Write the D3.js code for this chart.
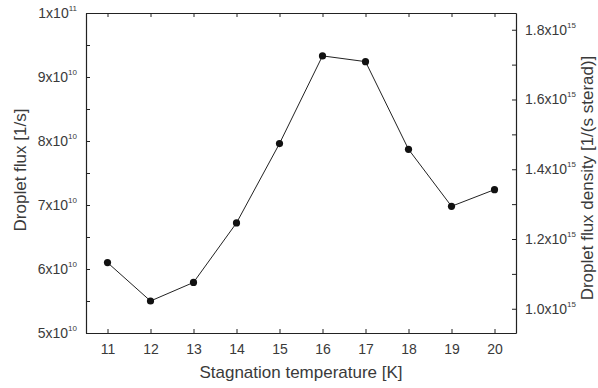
<!DOCTYPE html>
<html>
<head>
<meta charset="utf-8">
<script src="https://cdn.jsdelivr.net/npm/d3@7"></script>
<style>
  body { margin: 0; background: #fff; }
  text { font-family: "Liberation Sans", Arial, sans-serif; fill: #3a3a3a; }
  .domain, .tick line { stroke: #222; }
</style>
</head>
<body>
<div id="chart"></div>
<script>
// data
let temps = [11, 12, 13, 14, 15, 16, 17, 18, 19, 20];
let flux = [6.10e10, 5.50e10, 5.79e10, 6.72e10, 7.96e10, 9.33e10, 9.24e10, 7.87e10, 6.98e10, 7.24e10];

let leftTicks = [5, 6, 7, 8, 9, 10];           // x10^10, last one is 1x10^11
let leftMinor = [5.5, 6.5, 7.5, 8.5, 9.5];
let rightTicks = [1.0, 1.2, 1.4, 1.6, 1.8];    // x10^15
let rightMinor = [1.1, 1.3, 1.5, 1.7];

let svgWidth = 598;
let svgHeight = 388;
let margin = { top: 13, right: 82, bottom: 55, left: 86 };
let width = svgWidth - margin.left - margin.right;
let height = svgHeight - margin.top - margin.bottom;

let svg = d3.select('#chart').append('svg')
  .attr('width', svgWidth)
  .attr('height', svgHeight);

let chartGroup = svg.append('g')
  .attr('transform', `translate(${margin.left}, ${margin.top})`);

let x = d3.scaleLinear().domain([10.5, 20.5]).range([0, width]);
let y = d3.scaleLinear().domain([5e10, 1e11]).range([height, 0]);
let y2 = d3.scaleLinear().domain([0.9305, 1.848]).range([height, 0]);

// box + inward ticks
chartGroup.append('g')
  .attr('transform', `translate(0, ${height})`)
  .call(d3.axisBottom(x).tickValues(temps).tickSizeInner(-4).tickSizeOuter(0).tickPadding(11).tickFormat(d3.format('d')))
  .call(g => g.selectAll('text').attr('font-size', 14).attr('font-family', null));

chartGroup.append('g')
  .call(d3.axisTop(x).tickValues(temps).tickSizeInner(-4).tickSizeOuter(0).tickFormat(''));

chartGroup.append('g')
  .call(d3.axisLeft(y).tickValues(leftTicks.concat(leftMinor).map(d => d * 1e10)).tickSizeInner(-4).tickSizeOuter(0).tickFormat(''));

chartGroup.append('g')
  .attr('transform', `translate(${width}, 0)`)
  .call(d3.axisRight(y2).tickValues(rightTicks.concat(rightMinor)).tickSizeInner(-4).tickSizeOuter(0).tickFormat(''));

chartGroup.selectAll('.domain').attr('stroke-width', 1.2);

// left tick labels with superscripts
leftTicks.forEach(function(v) {
  let t = chartGroup.append('text')
    .attr('x', -9)
    .attr('y', y(v * 1e10) + 5)
    .attr('text-anchor', 'end')
    .attr('font-size', 14);
  let mant = v === 10 ? '1' : String(v);
  let exp = v === 10 ? '11' : '10';
  t.append('tspan').text(mant + 'x10');
  t.append('tspan').attr('dy', -7).attr('font-size', 8).text(exp);
});

// right tick labels
rightTicks.forEach(function(v) {
  let t = chartGroup.append('text')
    .attr('x', width + 9)
    .attr('y', y2(v) + 5)
    .attr('font-size', 14);
  t.append('tspan').text(v.toFixed(1) + 'x10');
  t.append('tspan').attr('dy', -7).attr('font-size', 8).text('15');
});

// line and points
let line = d3.line()
  .x((d, i) => x(temps[i]))
  .y(d => y(d));

chartGroup.append('path')
  .datum(flux)
  .attr('fill', 'none')
  .attr('stroke', '#222')
  .attr('stroke-width', 1)
  .attr('d', line);

chartGroup.selectAll('circle')
  .data(flux)
  .enter()
  .append('circle')
  .attr('cx', (d, i) => x(temps[i]))
  .attr('cy', d => y(d))
  .attr('r', 3.6)
  .attr('fill', '#111');

// axis titles
svg.append('text')
  .attr('x', margin.left + width / 2)
  .attr('y', 378)
  .attr('text-anchor', 'middle')
  .attr('font-size', 17)
  .text('Stagnation temperature [K]');

svg.append('text')
  .attr('transform', `translate(26, 170) rotate(-90)`)
  .attr('text-anchor', 'middle')
  .attr('font-size', 17)
  .text('Droplet flux [1/s]');

svg.append('text')
  .attr('transform', `translate(593, 178) rotate(-90)`)
  .attr('text-anchor', 'middle')
  .attr('font-size', 17)
  .text('Droplet flux density [1/(s sterad)]');
</script>
</body>
</html>
